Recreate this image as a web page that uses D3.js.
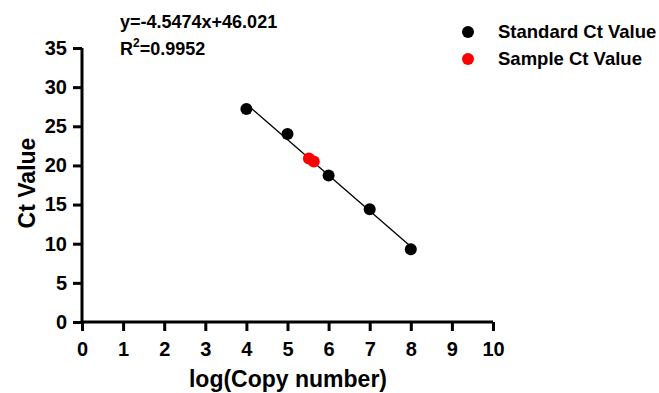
<!DOCTYPE html>
<html>
<head>
<meta charset="utf-8">
<script src="https://cdn.jsdelivr.net/npm/d3@7"></script>
<style>
  body { margin: 0; background: #fff; }
  text { font-family: "Liberation Sans", Arial, sans-serif; font-weight: bold; }
</style>
</head>
<body>
<svg id="chart" width="659" height="393"></svg>
<script>
// standard curve points
var stdLog = [4, 5, 6, 7, 8];
var stdCt = [27.2, 24.0, 18.7, 14.4, 9.3];
// sample points
var sampleLog = [5.52, 5.64];
var sampleCt = [20.9, 20.5];
// fit
var slope = -4.5474, intercept = 46.021;
var xTicks = [0, 1, 2, 3, 4, 5, 6, 7, 8, 9, 10];
var yTicks = [0, 5, 10, 15, 20, 25, 30, 35];

var svg = d3.select("#chart"),
    margin = {top: 48, right: 166, bottom: 71, left: 82},
    width = +svg.attr("width") - margin.left - margin.right,
    height = +svg.attr("height") - margin.top - margin.bottom;

var x = d3.scaleLinear().domain([0, 10]).range([0, width]),
    y = d3.scaleLinear().domain([0, 35]).range([height, 0]);

var g = svg.append("g")
    .attr("transform", "translate(" + margin.left + "," + margin.top + ")");

var xAxis = g.append("g")
    .attr("transform", "translate(0," + height + ")")
    .call(d3.axisBottom(x).tickValues(xTicks).tickSize(9).tickPadding(11).tickFormat(d3.format("d")));
var yAxis = g.append("g")
    .call(d3.axisLeft(y).tickValues(yTicks).tickSize(9).tickPadding(6).tickFormat(d3.format("d")));

[xAxis, yAxis].forEach(function(a) {
  a.select(".domain").attr("stroke", "#000").attr("stroke-width", 3);
  a.selectAll(".tick line").attr("stroke", "#000").attr("stroke-width", 3);
  a.selectAll(".tick text").attr("fill", "#000").style("font-size", "20px");
});
xAxis.select(".domain").attr("d", "M0,0H" + width);
yAxis.select(".domain").attr("d", "M0," + height + "V0");

// regression line
g.append("line")
    .attr("x1", x(4)).attr("y1", y(slope * 4 + intercept))
    .attr("x2", x(8)).attr("y2", y(slope * 8 + intercept))
    .attr("stroke", "#000").attr("stroke-width", 1.3);

g.selectAll(".std")
    .data(stdLog)
    .enter().append("circle")
    .attr("class", "std")
    .attr("cx", function(d) { return x(d); })
    .attr("cy", function(d, i) { return y(stdCt[i]); })
    .attr("r", 6)
    .attr("fill", "#000");

g.selectAll(".smp")
    .data(sampleLog)
    .enter().append("circle")
    .attr("class", "smp")
    .attr("cx", function(d) { return x(d); })
    .attr("cy", function(d, i) { return y(sampleCt[i]); })
    .attr("r", 6)
    .attr("fill", "#f00");

// axis titles
svg.append("text")
    .attr("x", 288).attr("y", 387)
    .attr("text-anchor", "middle")
    .style("font-size", "23px")
    .text("log(Copy number)");
svg.append("text")
    .attr("transform", "translate(35,183) rotate(-90)")
    .attr("text-anchor", "middle")
    .style("font-size", "23px")
    .text("Ct Value");

// equation
svg.append("text").attr("x", 120).attr("y", 28).style("font-size", "18px")
    .text("y=" + slope + "x+" + intercept);
var r2 = svg.append("text").attr("x", 120).attr("y", 55).style("font-size", "18px");
r2.append("tspan").text("R");
r2.append("tspan").attr("dy", -8).style("font-size", "12px").text("2");
r2.append("tspan").attr("dy", 8).text("=0.9952");

// legend
var legend = [{label: "Standard Ct Value", color: "#000"}, {label: "Sample Ct Value", color: "#f00"}];
var lg = svg.selectAll(".legend")
    .data(legend)
    .enter().append("g")
    .attr("transform", function(d, i) { return "translate(468," + (32 + i * 27) + ")"; });
lg.append("circle").attr("r", 6).attr("fill", function(d) { return d.color; });
lg.append("text").attr("x", 30).attr("dy", "0.35em").style("font-size", "18.5px")
    .text(function(d) { return d.label; });
</script>
</body>
</html>
